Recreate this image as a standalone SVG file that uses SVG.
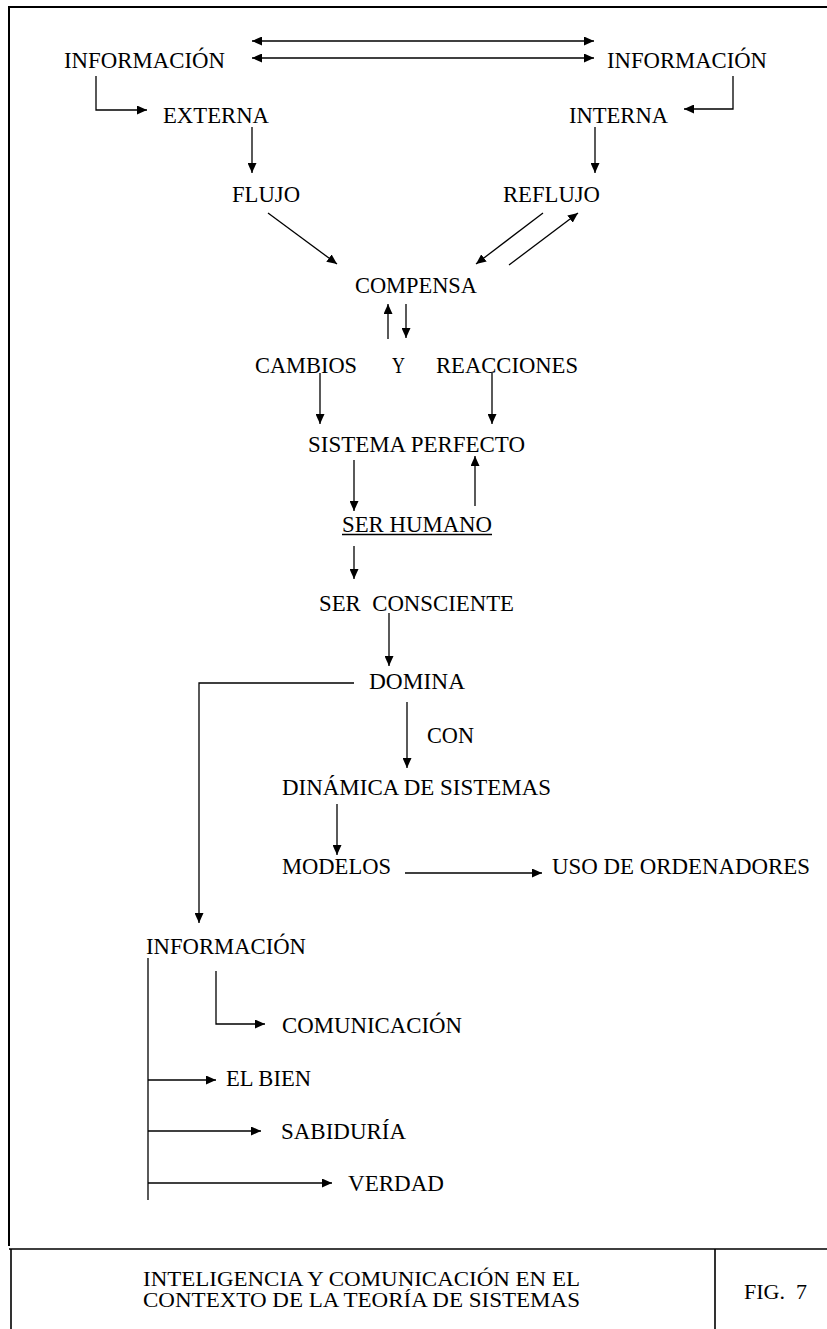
<svg xmlns="http://www.w3.org/2000/svg" width="827" height="1329" viewBox="0 0 827 1329">
<style>
text{font-family:"Liberation Serif","Times New Roman",serif;font-size:22.5px;fill:#000}
.t{font-size:20px}
.c{fill:none;stroke:#000;stroke-width:1.3}
.a{marker-end:url(#ah)}
.d{marker-start:url(#ah);marker-end:url(#ah)}
.f{fill:none;stroke:#000}
</style>
<defs>
<marker id="ah" markerUnits="userSpaceOnUse" markerWidth="11" markerHeight="9" refX="10" refY="4.5" orient="auto-start-reverse" viewBox="0 0 11 9">
<path d="M0,0 L10,4.5 L0,9 z" fill="#000"/>
</marker>
</defs>
<g id="frame">
<path class="f" stroke-width="2" d="M9,1246 V7 H827"/>
<path class="f" stroke-width="1.6" d="M9,1249 H827 M11,1249 V1329 M715,1249 V1329"/>
</g>
<g id="connectors">
<path class="c d" d="M252,41 H594"/>
<path class="c d" d="M252,58 H594"/>
<path class="c a" d="M96,76 V110 H147"/>
<path class="c a" d="M733,76 V109 H684"/>
<path class="c a" d="M252,127 V173"/>
<path class="c a" d="M595,127 V173"/>
<path class="c a" d="M268,213 L337,264"/>
<path class="c a" d="M543,213 L476,264"/>
<path class="c a" d="M509,265 L578,213"/>
<path class="c a" d="M388,339 V304"/>
<path class="c a" d="M406,304 V338"/>
<path class="c a" d="M320,373 V424"/>
<path class="c a" d="M492,373 V424"/>
<path class="c a" d="M354,460 V511"/>
<path class="c a" d="M475,506 V456"/>
<path class="c a" d="M354,546 V579"/>
<path class="c a" d="M389,613 V666"/>
<path class="c a" d="M354,683 H199 V923"/>
<path class="c a" d="M407,702 V768"/>
<path class="c a" d="M337,804 V855"/>
<path class="c a" d="M405,873 H542"/>
<path class="c" d="M148,958 V1200"/>
<path class="c a" d="M216,971 V1024 H265"/>
<path class="c a" d="M148,1080 H216"/>
<path class="c a" d="M148,1131 H261"/>
<path class="c a" d="M148,1183 H332"/>
</g>
<g id="n-info-ext"><text x="64" y="68" textLength="161" lengthAdjust="spacingAndGlyphs">INFORMACIÓN</text></g>
<g id="n-info-int"><text x="607" y="68" textLength="160" lengthAdjust="spacingAndGlyphs">INFORMACIÓN</text></g>
<g id="n-externa"><text x="163" y="123" textLength="106" lengthAdjust="spacingAndGlyphs">EXTERNA</text></g>
<g id="n-interna"><text x="569" y="123" textLength="99" lengthAdjust="spacingAndGlyphs">INTERNA</text></g>
<g id="n-flujo"><text x="232" y="202" textLength="68" lengthAdjust="spacingAndGlyphs">FLUJO</text></g>
<g id="n-reflujo"><text x="503" y="202" textLength="97" lengthAdjust="spacingAndGlyphs">REFLUJO</text></g>
<g id="n-compensa"><text x="355" y="293" textLength="122" lengthAdjust="spacingAndGlyphs">COMPENSA</text></g>
<g id="n-cambios"><text x="255" y="373" textLength="102" lengthAdjust="spacingAndGlyphs">CAMBIOS</text></g>
<g id="n-y"><text x="392" y="373" textLength="13" lengthAdjust="spacingAndGlyphs">Y</text></g>
<g id="n-reacciones"><text x="436" y="373" textLength="142" lengthAdjust="spacingAndGlyphs">REACCIONES</text></g>
<g id="n-sistema"><text x="308" y="452" textLength="217" lengthAdjust="spacingAndGlyphs">SISTEMA PERFECTO</text></g>
<g id="n-serhumano"><text x="342" y="532" textLength="150" lengthAdjust="spacingAndGlyphs">SER HUMANO</text><path class="c" d="M342,534.5 H492"/></g>
<g id="n-consciente"><text x="319" y="611" textLength="195" lengthAdjust="spacingAndGlyphs" xml:space="preserve">SER  CONSCIENTE</text></g>
<g id="n-domina"><text x="369" y="689" textLength="96" lengthAdjust="spacingAndGlyphs">DOMINA</text></g>
<g id="l-con"><text x="427" y="743" textLength="47" lengthAdjust="spacingAndGlyphs">CON</text></g>
<g id="n-dinamica"><text x="282" y="795" textLength="269" lengthAdjust="spacingAndGlyphs">DINÁMICA DE SISTEMAS</text></g>
<g id="n-modelos"><text x="282" y="874" textLength="109" lengthAdjust="spacingAndGlyphs">MODELOS</text></g>
<g id="n-uso"><text x="552" y="874" textLength="258" lengthAdjust="spacingAndGlyphs">USO DE ORDENADORES</text></g>
<g id="n-info-low"><text x="146" y="954" textLength="160" lengthAdjust="spacingAndGlyphs">INFORMACIÓN</text></g>
<g id="n-comunicacion"><text x="282" y="1033" textLength="180" lengthAdjust="spacingAndGlyphs">COMUNICACIÓN</text></g>
<g id="n-bien"><text x="226" y="1086" textLength="85" lengthAdjust="spacingAndGlyphs">EL BIEN</text></g>
<g id="n-sabiduria"><text x="281" y="1139" textLength="125" lengthAdjust="spacingAndGlyphs">SABIDURÍA</text></g>
<g id="n-verdad"><text x="348" y="1191" textLength="96" lengthAdjust="spacingAndGlyphs">VERDAD</text></g>
<g id="title">
<text class="t" x="143" y="1286" textLength="437" lengthAdjust="spacingAndGlyphs">INTELIGENCIA Y COMUNICACIÓN EN EL</text>
<text class="t" x="143" y="1307" textLength="437" lengthAdjust="spacingAndGlyphs">CONTEXTO DE LA TEORÍA DE SISTEMAS</text>
</g>
<g id="fig"><text class="t" x="744" y="1299" textLength="63" lengthAdjust="spacingAndGlyphs" xml:space="preserve">FIG.  7</text></g>
</svg>
